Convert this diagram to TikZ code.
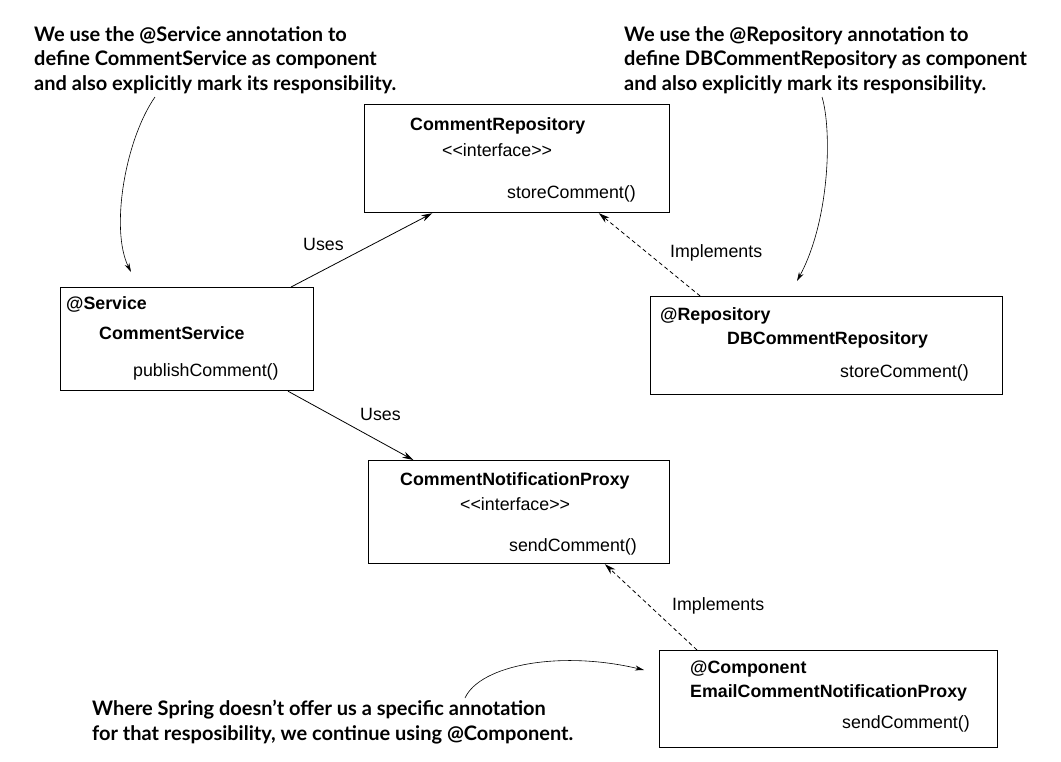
\documentclass[tikz,border=0pt]{standalone}
\usepackage{fontspec}
\setmainfont{Liberation Sans}
\newfontfamily\notefont{Lato}
\usetikzlibrary{arrows.meta,calc}
\newcommand{\stereo}[1]{<\kern0pt<#1>\kern0pt>}
\begin{document}
\begin{tikzpicture}[x=1pt,y=-1pt,
 box/.style={draw,line width=1.2pt,inner sep=0pt,anchor=north west},
 t/.style={anchor=base west,inner sep=0pt,font=\fontsize{17.8}{20}\selectfont},
 tr/.style={t,anchor=base east},
 tb/.style={t,font=\fontsize{17.8}{20}\selectfont\bfseries},
 note/.style={anchor=north west,inner sep=0pt,align=left,font=\notefont\bfseries\fontsize{20}{24.5}\selectfont},
 conn/.style={line width=0.8pt,-{Stealth[length=11pt,width=6.5pt]}},
 impl/.style={conn,dash pattern=on 4pt off 3pt},
 curvy/.style={line width=0.6pt,-{Stealth[length=9pt,width=5pt]}}
]
\useasboundingbox (0,0) rectangle (1061,761);
% boxes
\node[box,minimum width=305pt,minimum height=108pt] (cr) at (364,104) {};
\node[box,minimum width=253pt,minimum height=103pt] (cs) at (60,287) {};
\node[box,minimum width=352pt,minimum height=98pt] (db) at (650,296) {};
\node[box,minimum width=301pt,minimum height=103pt] (cnp) at (368,460) {};
\node[box,minimum width=338pt,minimum height=97pt] (ecnp) at (659,650) {};
% box texts
\node[tb] (crname) at (410,130) {CommentRepository};
\node[t] (crint) at (442,156) {\stereo{interface}};
\node[tr] (crm) at (636,198) {storeComment()};
\node[tb] (csann) at (66,309) {@Service};
\node[tb] (csname) at (99,339) {CommentService};
\node[t] (csm) at (133,376) {publishComment()};
\node[tb] (dbann) at (660,320) {@Repository};
\node[tb] (dbname) at (727,344) {DBCommentRepository};
\node[tr] (dbm) at (969,377) {storeComment()};
\node[tb] (cnpname) at (400,485) {CommentNotificationProxy};
\node[t] (cnpint) at (460,510) {\stereo{interface}};
\node[tr] (cnpm) at (637,551) {sendComment()};
\node[tb] (ecann) at (690,673) {@Component};
\node[tb] (ecname) at (690,697) {EmailCommentNotificationProxy};
\node[tr] (ecm) at (970,728) {sendComment()};
% connector labels
\node[t] (l1) at (303,250) {Uses};
\node[t] (l2) at (670,257) {Implements};
\node[t] (l3) at (360,420) {Uses};
\node[t] (l4) at (672,610) {Implements};
% connectors
\draw[conn] ($(cs.north west)!0.909!(cs.north east)$) -- ($(cr.south west)!0.223!(cr.south east)$);
\draw[impl] ($(db.north west)!0.142!(db.north east)$) -- ($(cr.south west)!0.767!(cr.south east)$);
\draw[conn] ($(cs.south west)!0.897!(cs.south east)$) -- ($(cnp.north west)!0.15!(cnp.north east)$);
\draw[impl] ($(ecnp.north west)!0.112!(ecnp.north east)$) -- ($(cnp.south west)!0.784!(cnp.south east)$);
% notes
\node[note] (n1) at (34,26) {We use the @Service annotation to\\define CommentService as component\\and also explicitly mark its responsibility.};
\node[note] (n2) at (624,26) {We use the @Repository annotation to\\define DBCommentRepository as component\\and also explicitly mark its responsibility.};
\node[note] (n3) at (92,700) {Where Spring doesn’t offer us a specific annotation\\for that resposibility, we continue using @Component.};
\coordinate (s1) at (155,97);
\coordinate (e1) at (131,272);
\coordinate (s2) at (822,97);
\coordinate (e2) at (797,281);
\coordinate (s3) at (465,698);
\coordinate (e3) at (644,670);
\draw[curvy] (s1) .. controls (125,140) and (110,230) .. (e1);
\draw[curvy] (s2) .. controls (832,130) and (830,220) .. (e2);
\draw[curvy] (s3) .. controls (480,665) and (560,650) .. (e3);
\end{tikzpicture}
\end{document}
